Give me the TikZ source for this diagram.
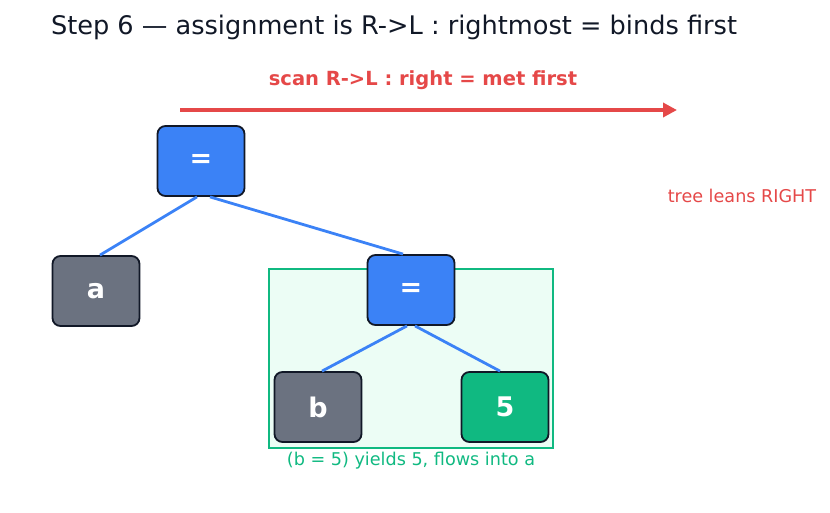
\documentclass[tikz,border=0pt]{standalone}
\usepackage{fontspec}
\setmainfont{DejaVu Sans}
\usetikzlibrary{arrows.meta}
\definecolor{opblue}{HTML}{3B82F6}
\definecolor{leafgray}{HTML}{6B7280}
\definecolor{litgreen}{HTML}{10B981}
\definecolor{paleGreen}{HTML}{ECFDF5}
\definecolor{ink}{HTML}{111827}
\definecolor{scanred}{HTML}{E54848}
\tikzstyle{tnode}=[rectangle, rounded corners=8pt, draw=ink, line width=1.8pt, minimum width=87pt, minimum height=70pt, inner sep=0pt, text=white, font=\fontsize{27}{32}\selectfont\bfseries]
\tikzstyle{op}=[tnode, fill=opblue]
\tikzstyle{var}=[tnode, fill=leafgray]
\tikzstyle{lit}=[tnode, fill=litgreen]
\tikzstyle{tedge} = [draw, line width=2.8pt, -, opblue]
\tikzstyle{scan} = [draw, line width=4pt, -{Triangle[length=14pt,width=14pt]}, scanred]

\begin{document}
\begin{tikzpicture}[x=1pt, y=-1pt]
	    \useasboundingbox (0,0) rectangle (830,512);
	    \node[text=ink, font=\fontsize{25.6}{30}\selectfont] (title) at (394,27) {Step 6 — assignment is R->L : rightmost = binds first};
	    \node[text=scanred, font=\fontsize{19.5}{23}\selectfont\bfseries] (scantxt) at (423,80) {scan R->L : right = met first};
	    \coordinate (scanfrom) at (180,110);
	    \coordinate (scanto) at (677,110);
	    \path[scan] (scanfrom) -- (scanto);
	    \node[text=scanred, font=\fontsize{17.6}{21}\selectfont] (lean) at (742,196) {tree leans RIGHT};
	    % subtree (b = 5)
	    \node[draw=litgreen, fill=paleGreen, line width=1.8pt, minimum width=284pt, minimum height=179pt, inner sep=0pt] (sub) at (411,358.5) {};
	    \node[text=litgreen, font=\fontsize{17.6}{21}\selectfont] (subtxt) at (411,461) {(b = 5) yields 5, flows into a};
	    \foreach \pos/\name/\kind/\txt in {{(201,161)/eqtop/op/=}, {(96,291)/a/var/a}, {(411,290)/eqsub/op/=}, {(318,407)/b/var/b}, {(505,407)/five/lit/5}}
	        \node[\kind] (\name) at \pos {\txt};
	    \foreach \source/\dx/\dest/\ex in {eqtop/-4/a/4, eqtop/9/eqsub/-8, eqsub/-4/b/4, eqsub/4/five/-5}
			\path[tedge] ([xshift=\dx pt]\source.south) -- ([xshift=\ex pt]\dest.north);
	\end{tikzpicture}
\end{document}
